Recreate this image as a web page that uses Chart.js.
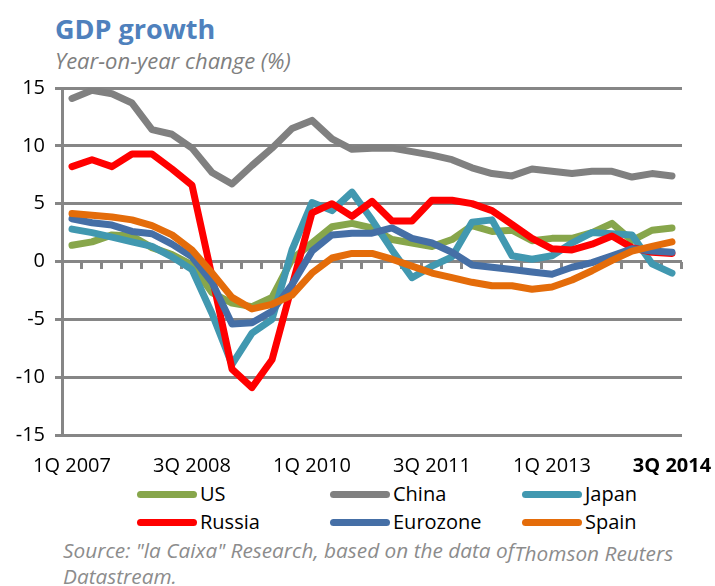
<!DOCTYPE html>
<html>
<head>
<meta charset="utf-8">
<script src="https://cdn.jsdelivr.net/npm/chart.js@4"></script>
<style>
  body { margin: 0; background: #fff; font-family: 'Open Sans', sans-serif; }
  #wrap { position: relative; width: 715px; height: 586px; overflow: hidden; }
  #chart { position: absolute; left: 0; top: 66px; }
  .title { position: absolute; left: 55px; top: 15px; font-size: 27px; line-height: 27px; font-weight: bold; color: #4f81bd; white-space: nowrap; }
  .subtitle { position: absolute; left: 55px; top: 49px; font-size: 22px; line-height: 22px; font-style: italic; color: #7f7f7f; white-space: nowrap; }
  .leg { position: absolute; font-size: 20px; line-height: 24px; color: #000; white-space: nowrap; }
  .leg span { position: absolute; left: 0; top: 9px; width: 60px; height: 7px; border-radius: 4px; }
  .leg b { font-weight: normal; position: absolute; left: 63px; top: 0; }
  .source { position: absolute; left: 63px; top: 537px; font-size: 20.8px; line-height: 26px; font-style: italic; color: #8c8c8c; white-space: nowrap; }
</style>
</head>
<body>
<div id="wrap">
  <div class="title">GDP growth</div>
  <div class="subtitle">Year-on-year change (%)</div>
  <canvas id="chart" width="715" height="414"></canvas>
  <div id="legend"></div>
  <div class="source">Source: "la Caixa" Research, based on the data of<span style="position:relative;top:3px">Thomson Reuters</span><br>Datastream.</div>
</div>
<script>
// Quarters, 1Q 2007 .. 3Q 2014
const quarters = [
  '1Q 2007', '2Q 2007', '3Q 2007', '4Q 2007',
  '1Q 2008', '2Q 2008', '3Q 2008', '4Q 2008',
  '1Q 2009', '2Q 2009', '3Q 2009', '4Q 2009',
  '1Q 2010', '2Q 2010', '3Q 2010', '4Q 2010',
  '1Q 2011', '2Q 2011', '3Q 2011', '4Q 2011',
  '1Q 2012', '2Q 2012', '3Q 2012', '4Q 2012',
  '1Q 2013', '2Q 2013', '3Q 2013', '4Q 2013',
  '1Q 2014', '2Q 2014', '3Q 2014'
];

// Year-on-year change (%)
const us = [1.4, 1.7, 2.3, 2.2, 1.2, 0.6, -0.3, -2.7, -3.6, -3.9, -3.1, 0.2, 1.6, 3.0, 3.3, 2.9,
  1.9, 1.6, 1.3, 1.9, 3.1, 2.6, 2.7, 1.8, 2.0, 2.0, 2.5, 3.3, 1.8, 2.7, 2.9];
const china = [14.1, 14.8, 14.5, 13.7, 11.4, 11.0, 9.8, 7.7, 6.7, 8.3, 9.8, 11.5, 12.2, 10.6, 9.7, 9.8,
  9.8, 9.5, 9.2, 8.8, 8.1, 7.6, 7.4, 8.0, 7.8, 7.6, 7.8, 7.8, 7.3, 7.6, 7.4];
const japan = [2.8, 2.5, 2.1, 1.7, 1.3, 0.4, -0.7, -4.5, -8.9, -6.2, -5.0, 1.0, 5.1, 4.4, 6.0, 3.6,
  1.0, -1.4, -0.4, 0.4, 3.4, 3.6, 0.5, 0.2, 0.5, 1.6, 2.5, 2.4, 2.3, -0.2, -1.0];
const russia = [8.2, 8.8, 8.2, 9.3, 9.3, 8.0, 6.6, -1.3, -9.3, -10.9, -8.5, -2.1, 4.2, 5.0, 3.9, 5.2,
  3.5, 3.5, 5.3, 5.3, 5.0, 4.4, 3.2, 2.0, 1.1, 1.0, 1.5, 2.2, 1.2, 0.8, 0.7];
const eurozone = [3.7, 3.35, 3.15, 2.6, 2.4, 1.5, 0.4, -1.8, -5.4, -5.3, -4.3, -2.0, 0.9, 2.3, 2.45, 2.45,
  2.9, 2.0, 1.6, 0.8, -0.3, -0.5, -0.7, -0.9, -1.1, -0.5, -0.1, 0.5, 1.1, 0.9, 0.8];
const spain = [4.15, 4.0, 3.85, 3.6, 3.1, 2.3, 1.0, -1.0, -3.1, -4.1, -3.7, -2.9, -1.0, 0.3, 0.7, 0.7,
  0.2, -0.4, -1.0, -1.4, -1.8, -2.1, -2.1, -2.4, -2.2, -1.6, -0.8, 0.1, 0.9, 1.3, 1.7];

const seriesNames = ['US', 'China', 'Japan', 'Russia', 'Eurozone', 'Spain'];
const seriesData = [us, china, japan, russia, eurozone, spain];
const seriesColors = ['#87a64b', '#808080', '#4198b0', '#ff0000', '#456fa6', '#e46c0a'];

const gridGray = '#868686';
Chart.defaults.font.family = "'Open Sans', sans-serif";

// Excel-style: little tick marks hanging under the zero line
const zeroTicks = {
  id: 'zeroTicks',
  beforeDatasetsDraw(chart) {
    const { ctx, chartArea, scales } = chart;
    const y0 = Math.round(scales.y.getPixelForValue(0));
    const step = (chartArea.right - chartArea.left) / quarters.length;
    ctx.save();
    ctx.strokeStyle = gridGray;
    ctx.lineWidth = 3;
    for (let k = 1; k <= quarters.length; k++) {
      const x = Math.round(chartArea.left + k * step) - 0.5;
      ctx.beginPath();
      ctx.moveTo(x, y0);
      ctx.lineTo(x, y0 + 7);
      ctx.stroke();
    }
    ctx.restore();
  }
};

new Chart(document.getElementById('chart'), {
  type: 'line',
  data: {
    labels: quarters,
    datasets: seriesNames.map((name, i) => ({
      label: name,
      data: seriesData[i],
      borderColor: seriesColors[i],
      backgroundColor: seriesColors[i],
      borderWidth: 7,
      borderJoinStyle: 'round',
      borderCapStyle: 'round',
      pointRadius: 0,
      tension: 0,
      order: seriesNames.length - i
    }))
  },
  options: {
    responsive: false,
    animation: false,
    devicePixelRatio: 1,
    layout: { padding: { top: 22, right: 33, left: 0, bottom: 0 } },
    plugins: { legend: { display: false }, tooltip: { enabled: false } },
    scales: {
      x: {
        offset: true,
        // invisible tick marks only push the labels down
        grid: { display: true, drawOnChartArea: false, drawTicks: true, tickLength: 19, color: 'rgba(0,0,0,0)' },
        border: { display: false },
        afterFit: s => { s.height = 45; },
        ticks: {
          autoSkip: false,
          maxRotation: 0,
          padding: 0,
          color: '#000',
          font: ctx => ({ size: 20, weight: ctx.index === quarters.length - 1 ? 'bold' : 'normal' }),
          callback: (v, i) => (i % 6 === 0 ? quarters[i] : '')
        }
      },
      y: {
        min: -15,
        max: 15,
        afterFit: s => { s.width = 62; },
        ticks: { stepSize: 5, padding: 10, color: '#000', font: { size: 20 } },
        grid: { color: gridGray, lineWidth: 3, tickLength: 7 },
        border: { color: gridGray, width: 3 }
      }
    }
  },
  plugins: [zeroTicks]
});

// Legend, two rows of three
const legendCols = [137, 330, 522];
const legendRows = [482, 510];
const legend = document.getElementById('legend');
seriesNames.forEach((name, i) => {
  const item = document.createElement('div');
  item.className = 'leg';
  item.style.left = legendCols[i % 3] + 'px';
  item.style.top = legendRows[Math.floor(i / 3)] + 'px';
  item.innerHTML = '<span style="background:' + seriesColors[i] + '"></span><b>' + name + '</b>';
  legend.appendChild(item);
});
</script>
</body>
</html>
